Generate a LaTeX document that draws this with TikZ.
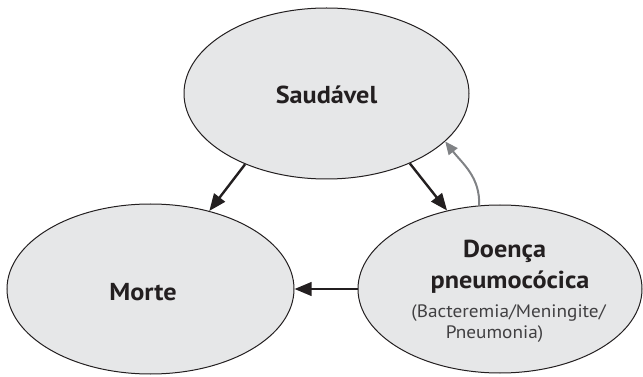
\documentclass[tikz,border=0pt]{standalone}
\usepackage{fontspec}
\setmainfont{PT Sans}[FakeStretch=1.07]
\usetikzlibrary{arrows.meta,shapes.geometric}

\definecolor{ink}{HTML}{231F20}
\definecolor{statefill}{HTML}{E6E7E8}
\definecolor{backgray}{HTML}{808285}
\definecolor{subgray}{HTML}{414042}

\begin{document}
\begin{tikzpicture}[x=1pt,y=-1pt,
  state/.style={ellipse, draw=ink, line width=1pt, fill=statefill, inner sep=0pt},
  title/.style={font=\fontsize{24.5}{30}\selectfont\bfseries, text=ink, anchor=base, inner sep=0pt},
  subtitle/.style={font=\fontsize{18}{21}\selectfont, text=subgray, anchor=base, inner sep=0pt},
  flow/.style={draw=ink, line width=2.4pt, -{Triangle[length=17pt,width=13.5pt]}},
  back/.style={draw=backgray, line width=2pt, -{Triangle[length=13pt,width=11pt]}}]

\useasboundingbox (0,0) rectangle (643,377);

% states
\node[state, minimum width=285pt, minimum height=171pt] (s) at (326.5,93.5) {};
\node[state, minimum width=287pt, minimum height=170pt] (m) at (150.5,289) {};
\node[state, minimum width=284pt, minimum height=168pt] (d) at (500,289) {};

% labels
\node[title] (st) at (326.5,104) {Saudável};
\node[title] (mt) at (143,300) {Morte};
\node[title] (dt1) at (504.5,258) {Doença};
\node[title] (dt2) at (510,288) {pneumocócica};
\node[subtitle] (ds1) at (508.5,317) {(Bacteremia/Meningite/};
\node[subtitle] (ds2) at (494.5,338) {Pneumonia)};

% transitions
\draw[flow] (s.-139.5) -- (m.53.7);
\draw[flow] (s.-40.5) -- (d.124.2);
\draw[flow] (d.west) -- (m.east);
\draw[back] (d.104.8) to[out=88,in=-52] (s.-22.3);
\end{tikzpicture}
\end{document}
